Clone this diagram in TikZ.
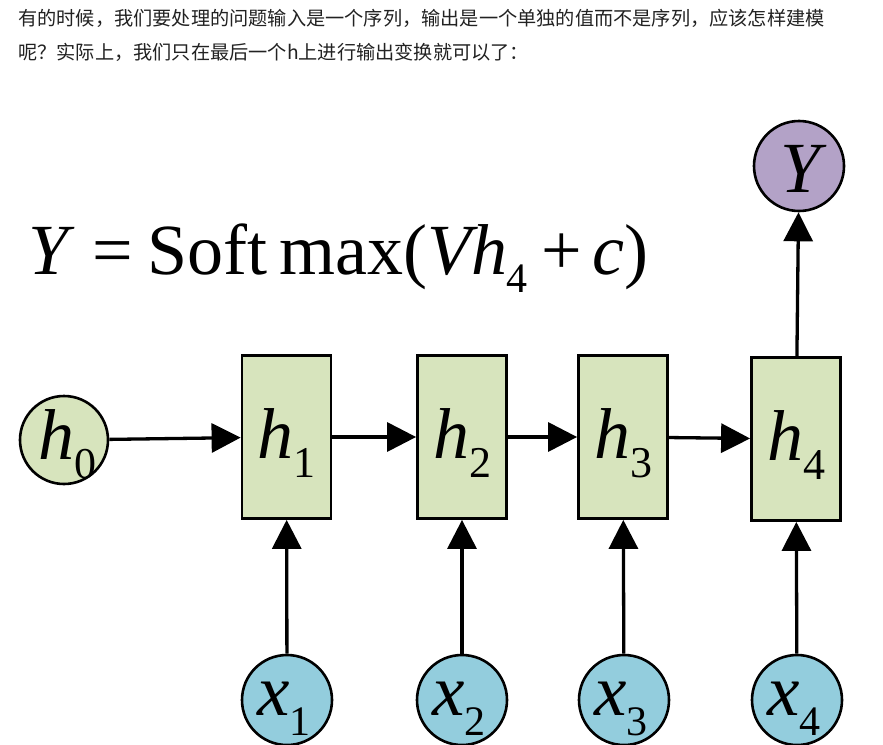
\documentclass[tikz,border=0pt]{standalone}
\usepackage{fontspec}
\setmainfont{Liberation Serif}
\newfontfamily\cjk{Noto Sans CJK SC}
\usetikzlibrary{arrows.meta,calc}
\definecolor{cellgreen}{RGB}{215,228,189}
\definecolor{inblue}{RGB}{147,205,221}
\definecolor{outpurple}{RGB}{179,162,199}
\definecolor{txtgray}{RGB}{34,34,34}
\newcommand\hlab[1]{\fontsize{72}{72}\selectfont\itshape h\raisebox{-19pt}{\fontsize{44}{44}\selectfont\upshape #1}}
\newcommand\xlab[1]{\fontsize{73}{73}\selectfont\itshape x\raisebox{-20pt}{\fontsize{42}{42}\selectfont\upshape #1}}
\begin{document}
\begin{tikzpicture}[x=1pt,y=-1pt,
  cell/.style={draw, line width=2.8pt, fill=cellgreen, minimum width=89pt, minimum height=163pt, inner sep=0pt},
  hcirc/.style={circle, draw, line width=2.6pt, fill=cellgreen, minimum size=88pt, inner sep=0pt},
  xcirc/.style={circle, draw, line width=2.6pt, fill=inblue, minimum size=90pt, inner sep=0pt},
  ycirc/.style={circle, draw, line width=2.6pt, fill=outpurple, minimum size=90pt, inner sep=0pt},
  lab/.style={anchor=base, inner sep=0pt},
  flow/.style={line width=3.3pt, -{Triangle[length=29pt,width=29pt]}},
  cjktext/.style={anchor=base west, inner sep=0pt, text=txtgray, font=\cjk\fontsize{19.2}{20}\selectfont}
]
\useasboundingbox (0,0) rectangle (883,744);
\fill[white] (0,0) rectangle (883,744);

\node[cjktext] (t1) at (18,25.5) {有的时候，我们要处理的问题输入是一个序列，输出是一个单独的值而不是序列，应该怎样建模};
\node[cjktext] (t2) at (18,59.5) {呢？实际上，我们只在最后一个h上进行输出变换就可以了：};

\node[anchor=base west, inner sep=0pt, font=\fontsize{72}{72}\selectfont] (eq) at (28,274)
  {\textit{Y}\kern18pt=\kern14.5pt Soft\kern12pt max(\textit{Vh}\kern-1pt\raisebox{-18pt}{\fontsize{42}{42}\selectfont 4}\kern14pt+\kern10pt\textit{c})};

\node[hcirc] (h0) at (64,440) {};
\node[cell] (h1) at (286.5,437) {};
\node[cell] (h2) at (462,437) {};
\node[cell] (h3) at (623,437) {};
\node[cell] (h4) at (796,439) {};
\node[xcirc] (x1) at (287,700) {};
\node[xcirc] (x2) at (462,700) {};
\node[xcirc] (x3) at (624,700) {};
\node[xcirc] (x4) at (797,700) {};
\node[ycirc] (Y) at (799,166) {};

\node[lab] at ($(h0.center)+(3,19)$) {\hlab{0}};
\node[lab] at ($(h1.center)+(0,21)$) {\hlab{1}};
\node[lab] at ($(h2.center)+(0,21)$) {\hlab{2}};
\node[lab] at ($(h3.center)+(0,21)$) {\hlab{3}};
\node[lab] at ($(h4.center)+(0,21)$) {\hlab{4}};
\node[lab] at ($(x1.center)+(-3,15)$) {\xlab{1}};
\node[lab] at ($(x2.center)+(-3,15)$) {\xlab{2}};
\node[lab] at ($(x3.center)+(-3,15)$) {\xlab{3}};
\node[lab] at ($(x4.center)+(-3,15)$) {\xlab{4}};
\node[lab] at ($(Y.center)+(2,26)$) {\fontsize{72}{72}\selectfont\itshape Y};

\draw[flow] (h0) -- (h1);
\draw[flow] (h1) -- (h2);
\draw[flow] (h2) -- (h3);
\draw[flow] (h3) -- (h4);
\draw[flow] (x1) -- (h1);
\draw[flow] (x2) -- (h2);
\draw[flow] (x3) -- (h3);
\draw[flow] (x4) -- (h4);
\draw[flow] (h4) -- (Y);
\end{tikzpicture}
\end{document}
